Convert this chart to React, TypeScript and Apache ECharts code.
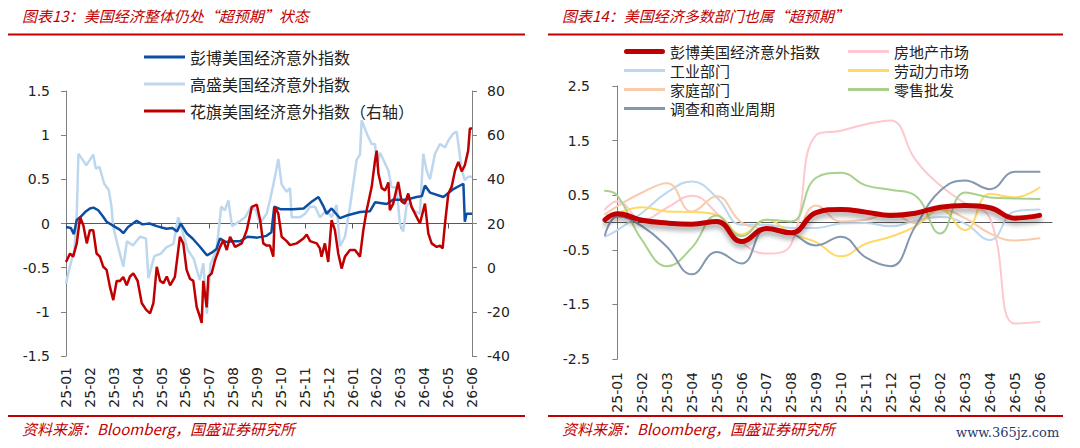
import React, { useEffect, useRef } from 'react';
import * as echarts from 'echarts';

// month labels shared by both panels
const MONTHS = [
  '25-01', '25-02', '25-03', '25-04', '25-05', '25-06', '25-07', '25-08', '25-09',
  '25-10', '25-11', '25-12', '26-01', '26-02', '26-03', '26-04', '26-05', '26-06',
];

// left panel: [month index, value]
const BBG_US: [number, number][] = [
  [0, -0.04], [0.2, -0.05], [0.33, -0.12], [0.45, 0.04], [0.59, 0.07], [0.8, 0.13], [1.0, 0.17],
  [1.15, 0.18], [1.35, 0.15], [1.55, 0.08], [1.7, 0.02], [2.0, -0.03], [2.25, -0.07], [2.4, -0.11],
  [2.6, -0.04], [2.96, 0.03], [3.2, -0.01], [3.5, 0.0], [3.8, -0.03], [4.2, -0.06], [4.45, -0.05],
  [4.65, -0.09], [4.8, 0.0], [5.05, -0.11], [5.3, -0.17], [5.6, -0.26], [5.9, -0.36], [6.1, -0.33],
  [6.3, -0.29], [6.45, -0.17], [6.7, -0.21], [7.0, -0.2], [7.3, -0.2], [7.6, -0.15], [8.0, -0.16],
  [8.4, -0.14], [8.6, -0.1], [8.72, 0.19], [9.0, 0.16], [9.5, 0.16], [9.95, 0.17], [10.3, 0.25],
  [10.57, 0.3], [10.77, 0.2], [10.91, 0.11], [11.12, 0.17], [11.47, 0.06], [11.75, 0.09],
  [12.31, 0.13], [12.73, 0.14], [12.94, 0.24], [13.43, 0.22], [13.7, 0.27], [14.26, 0.27],
  [14.68, 0.3], [14.9, 0.31], [15.03, 0.43], [15.24, 0.35], [15.8, 0.3], [16.22, 0.39],
  [16.5, 0.43], [16.64, 0.45], [16.7, 0.02], [16.77, 0.11], [17, 0.11],
];

const GS_US: [number, number][] = [
  [0, -0.68], [0.15, -0.5], [0.35, -0.3], [0.45, 0.1], [0.52, 0.79], [0.7, 0.72], [0.85, 0.66],
  [1.0, 0.72], [1.14, 0.78], [1.25, 0.62], [1.4, 0.64], [1.6, 0.45], [1.79, 0.38], [1.9, 0.2],
  [1.98, -0.04], [2.15, -0.23], [2.4, -0.49], [2.55, -0.2], [2.8, -0.25], [3.1, -0.15], [3.35, -0.17],
  [3.45, -0.62], [3.7, -0.37], [3.98, -0.34], [4.2, -0.27], [4.5, -0.23], [4.7, 0.07], [4.85, -0.06],
  [5.1, -0.3], [5.35, -0.4], [5.6, -0.64], [5.75, -0.45], [5.9, -1.02], [6.05, -0.46], [6.3, -0.3],
  [6.5, 0.19], [6.65, 0.15], [6.8, 0.26], [6.95, -0.03], [7.3, 0.03], [7.5, 0.07], [7.75, 0.19],
  [7.95, 0.15], [8.12, 0.0], [8.4, 0.11], [8.54, 0.26], [8.75, 0.53], [8.89, 0.73], [9.03, 0.44],
  [9.24, 0.36], [9.38, 0.4], [9.45, 0.07], [9.8, 0.07], [10.01, 0.11], [10.22, 0.19], [10.43, 0.19],
  [10.63, 0.07], [10.91, 0.15], [11.12, 0.07], [11.33, 0.21], [11.47, -0.26], [11.68, -0.15],
  [11.89, 0.19], [12.17, 0.72], [12.31, 0.78], [12.38, 1.17], [12.59, 1.02], [12.8, 0.9],
  [12.94, 0.9], [13.01, 0.64], [13.15, 0.8], [13.36, 0.68], [13.5, 0.6], [13.63, 0.41],
  [13.84, 0.41], [13.98, 0.0], [14.12, -0.09], [14.26, 0.2], [14.4, 0.24], [14.54, 0.15],
  [14.82, 0.11], [14.96, 0.79], [15.1, 0.6], [15.24, 0.5], [15.45, 0.79], [15.66, 0.9],
  [15.87, 0.86], [16.01, 0.94], [16.22, 1.02], [16.36, 1.04], [16.5, 0.75], [16.57, 0.6],
  [16.7, 0.49], [16.84, 0.53], [17, 0.53],
];

// right axis
const CITI_US: [number, number][] = [
  [0, 2.6], [0.17, 6.4], [0.3, 5], [0.45, 11], [0.59, 23], [0.73, 19], [0.87, 11], [1.0, 17],
  [1.14, 17], [1.28, 6.4], [1.42, 5], [1.56, 0.4], [1.7, -1], [1.84, -8.7], [1.98, -14.7],
  [2.12, -6], [2.26, -6], [2.4, -4.2], [2.54, -8], [2.68, -4], [2.82, -2.6], [3.0, -6], [3.17, -16],
  [3.35, -19], [3.52, -20.7], [3.66, -16], [3.8, 0.4], [3.94, -6], [4.08, -7], [4.22, -4],
  [4.36, -8], [4.56, -4.2], [4.77, 14], [4.91, 11], [5.05, -1], [5.19, -5], [5.33, -6],
  [5.47, -17.7], [5.6, -22], [5.68, -25], [5.75, -6], [5.89, -18], [5.96, -4], [6.1, -2.6],
  [6.24, 3.4], [6.45, 9.4], [6.59, 12.4], [6.73, 8], [6.87, 14], [7.08, 9.4], [7.36, 11],
  [7.57, 17], [7.78, 27.5], [7.99, 28.5], [8.13, 21.5], [8.26, 11], [8.4, 10], [8.54, 10],
  [8.68, 5], [8.75, 27.5], [8.89, 24.5], [9.03, 14], [9.24, 12], [9.38, 10.2], [9.66, 11],
  [9.94, 13.2], [10.08, 15], [10.22, 12], [10.5, 11], [10.63, 8.7], [10.7, 5], [10.84, 11],
  [10.98, 2.6], [11.12, 21.5], [11.26, 17], [11.4, 6.4], [11.54, -0.4], [11.68, 5], [11.89, 8],
  [12.1, 8], [12.31, 5], [12.45, 17], [12.59, 26], [12.8, 36.6], [12.94, 48.6], [13.01, 53],
  [13.08, 42.6], [13.22, 36], [13.36, 35], [13.5, 38.6], [13.56, 26], [13.7, 29], [13.91, 38.8],
  [14.05, 30], [14.19, 29], [14.33, 33.6], [14.47, 27.5], [14.68, 23], [14.82, 20], [15.03, 29],
  [15.17, 15.5], [15.31, 11], [15.52, 9.4], [15.66, 10], [15.77, 8.7], [15.87, 20], [16.01, 33.6],
  [16.15, 36.7], [16.29, 44], [16.43, 47.9], [16.57, 43.6], [16.7, 46.4], [16.84, 53],
  [16.91, 63], [17, 63],
];

// right panel: first value sits at the left edge, then one value per month
const SECTOR_X = [-0.5, 0, 1, 2, 3, 4, 5, 6, 7, 8, 9, 10, 11, 12, 13, 14, 15, 16, 17];
const BBG_TOTAL = [0.05, 0.16, 0.04, -0.01, -0.03, 0.02, -0.35, -0.11, -0.19, 0.18, 0.24, 0.19, 0.13, 0.17, 0.28, 0.31, 0.27, 0.08, 0.13];
const PROPERTY = [0.24, 0.39, 0.05, 0.27, 0.49, 0.17, -0.36, -0.57, -0.39, 1.6, 1.68, 1.8, 1.87, 1.15, 0.68, 0.35, 0.08, -1.85, -1.82];
const INDUSTRY = [-0.26, -0.14, 0.18, 0.55, 0.75, 0.46, -0.04, -0.04, -0.1, -0.1, -0.02, -0.01, -0.07, 0.03, 0.1, -0.02, -0.32, 0.2, 0.24];
const LABOR = [0.05, 0.17, 0.28, 0.2, 0.19, 0.14, -0.22, 0.05, -0.2, -0.36, -0.62, -0.39, -0.26, -0.07, 0.24, -0.14, 0.52, 0.46, 0.64];
const HOUSEHOLD = [0.15, 0.3, 0.55, 0.72, 0.2, 0.48, 0.0, -0.12, -0.2, 0.31, 0.02, 0.05, 0.17, -0.01, 0.24, 0.08, -0.2, -0.33, -0.29];
const RETAIL = [0.58, 0.49, -0.33, -0.8, -0.46, 0.13, -0.25, 0.05, 0.02, 0.82, 0.91, 0.68, 0.6, 0.49, -0.2, 0.55, 0.46, 0.44, 0.43];
const SURVEY = [-0.23, 0.11, -0.07, -0.45, -0.95, -0.54, -0.75, -0.12, -0.2, -0.42, -0.26, -0.64, -0.8, -0.07, 0.58, 0.77, 0.61, 0.93, 0.93];

const CJK = '"Noto Sans CJK SC", sans-serif';
const NUM = '"DejaVu Sans", sans-serif';
const RED = '#C00000';
const AXIS_GREY = '#808080';

// flat bars used as legend keys, so the key looks like a plain line
const THIN_KEY = 'path://M0 0H41V3H0Z';
const THICK_KEY = 'path://M2.5 0H38.5A2.5 2.5 0 0 1 38.5 5H2.5A2.5 2.5 0 0 1 2.5 0Z';

const pairs = (ys: number[]) => ys.map((y, i) => [SECTOR_X[i], y]);

function frame(title: string, x2: number, watermark: boolean) {
  const els: any[] = [
    { type: 'text', left: 22, top: 8, style: { text: title, fill: RED, fontSize: 15, fontStyle: 'italic', fontFamily: CJK } },
    { type: 'line', shape: { x1: 8, y1: 34.5, x2, y2: 34.5 }, style: { stroke: RED, lineWidth: 2 } },
    { type: 'line', shape: { x1: 8, y1: 416, x2, y2: 416 }, style: { stroke: RED, lineWidth: 2 } },
    { type: 'text', left: 22, top: 421, style: { text: '资料来源：Bloomberg，国盛证券研究所', fill: RED, fontSize: 15, fontStyle: 'italic', fontFamily: CJK } },
  ];
  if (watermark) {
    els.push({ type: 'text', left: 416, top: 426, style: { text: 'www.365jz.com', fill: '#1F3A6B', fontSize: 13, fontFamily: '"DejaVu Serif", serif' } });
  }
  return els;
}

const yLabel = { color: '#222', fontSize: 14, fontFamily: NUM };
const yLine = { show: true, lineStyle: { color: AXIS_GREY } };
const yTick = { show: true, length: 5, lineStyle: { color: AXIS_GREY } };
const xLabel = { rotate: 90, interval: 0, color: '#222', fontSize: 14, fontFamily: NUM };

function leftOption() {
  return {
    animation: false,
    backgroundColor: '#fff',
    graphic: frame('图表13：美国经济整体仍处“超预期”状态', 525, false),
    legend: {
      orient: 'vertical', left: 139, top: 44, itemWidth: 41, itemHeight: 14, itemGap: 11,
      textStyle: { color: '#222', fontSize: 16, fontFamily: CJK },
      data: [
        { name: '彭博美国经济意外指数', icon: THIN_KEY },
        { name: '高盛美国经济意外指数', icon: THIN_KEY },
        { name: '花旗美国经济意外指数（右轴）', icon: THIN_KEY },
      ],
    },
    grid: { left: 66, right: 68, top: 91, bottom: 92 },
    xAxis: [
      {
        type: 'category', data: MONTHS, boundaryGap: false, position: 'bottom',
        axisLine: { show: false, onZero: false }, axisTick: { show: false },
        axisLabel: { ...xLabel, margin: 11 },
      },
      {
        type: 'category', data: MONTHS, boundaryGap: false,
        axisLine: { onZero: true, onZeroAxisIndex: 0, lineStyle: { color: '#595959' } },
        axisTick: { inside: true, length: 5, lineStyle: { color: '#595959' } },
        axisLabel: { show: false },
      },
      { type: 'value', min: 0, max: 17, show: false },
    ],
    yAxis: [
      {
        type: 'value', min: -1.5, max: 1.5, interval: 0.5, position: 'left',
        axisLine: yLine, axisTick: yTick, splitLine: { show: false },
        axisLabel: { ...yLabel, margin: 16 },
      },
      {
        type: 'value', min: -40, max: 80, interval: 20, position: 'right',
        axisLine: yLine, axisTick: yTick, splitLine: { show: false },
        axisLabel: { ...yLabel, margin: 15 },
      },
    ],
    series: [
      {
        name: '高盛美国经济意外指数', type: 'line', xAxisIndex: 2, yAxisIndex: 0, data: GS_US,
        symbol: 'none', color: '#BDD7EE', lineStyle: { width: 2.5, color: '#BDD7EE' },
      },
      {
        name: '彭博美国经济意外指数', type: 'line', xAxisIndex: 2, yAxisIndex: 0, data: BBG_US,
        symbol: 'none', color: '#0B4EA2', lineStyle: { width: 2.5, color: '#0B4EA2' },
      },
      {
        name: '花旗美国经济意外指数（右轴）', type: 'line', xAxisIndex: 2, yAxisIndex: 1, data: CITI_US,
        symbol: 'none', color: RED, lineStyle: { width: 2.5, color: RED },
      },
    ],
  };
}

function sector(name: string, ys: number[], color: string, width: number, extra: any = {}) {
  return {
    name, type: 'line', xAxisIndex: 2, yAxisIndex: 0, data: pairs(ys), smooth: 0.45,
    symbol: 'none', color, lineStyle: { width, color, cap: 'round', ...extra },
  };
}

function rightOption() {
  const legendText = { color: '#222', fontSize: 15, fontFamily: CJK, lineHeight: 15 };
  return {
    animation: false,
    backgroundColor: '#fff',
    graphic: frame('图表14：美国经济多数部门也属“超预期”', 523, true),
    legend: [
      {
        orient: 'vertical', left: 79, top: 39, itemWidth: 41, itemHeight: 14, itemGap: 4,
        textStyle: legendText,
        data: [
          { name: '彭博美国经济意外指数', icon: THICK_KEY },
          { name: '工业部门', icon: THIN_KEY },
          { name: '家庭部门', icon: THIN_KEY },
          { name: '调查和商业周期', icon: THIN_KEY },
        ],
      },
      {
        orient: 'vertical', left: 303, top: 39, itemWidth: 41, itemHeight: 14, itemGap: 4,
        textStyle: legendText,
        data: [
          { name: '房地产市场', icon: THIN_KEY },
          { name: '劳动力市场', icon: THIN_KEY },
          { name: '零售批发', icon: THIN_KEY },
        ],
      },
    ],
    grid: { left: 65, right: 28, top: 86, bottom: 89 },
    xAxis: [
      {
        type: 'category', data: MONTHS, boundaryGap: true, position: 'bottom',
        axisLine: { show: false, onZero: false }, axisTick: { show: false },
        axisLabel: { ...xLabel, margin: 13 },
      },
      {
        type: 'category', data: MONTHS, boundaryGap: true,
        axisLine: { onZero: true, lineStyle: { color: '#595959' } },
        axisTick: { inside: true, length: 5, lineStyle: { color: '#595959' } },
        axisLabel: { show: false },
      },
      { type: 'value', min: -0.5, max: 17.5, show: false },
    ],
    yAxis: [
      {
        type: 'value', min: -2.5, max: 2.5, interval: 1,
        axisLine: yLine, axisTick: yTick, splitLine: { show: false },
        axisLabel: { ...yLabel, margin: 15 },
      },
    ],
    series: [
      sector('房地产市场', PROPERTY, '#FFC7CE', 2),
      sector('工业部门', INDUSTRY, '#BDD7EE', 2),
      sector('家庭部门', HOUSEHOLD, '#F8CBAD', 2),
      sector('劳动力市场', LABOR, '#FFD966', 2),
      sector('零售批发', RETAIL, '#A9D18E', 2),
      sector('调查和商业周期', SURVEY, '#8497B0', 2),
      sector('彭博美国经济意外指数', BBG_TOTAL, RED, 5, {
        shadowColor: 'rgba(0,0,0,0.35)', shadowBlur: 5, shadowOffsetY: 4,
      }),
    ],
  };
}

export default function App() {
  const leftRef = useRef<HTMLDivElement>(null);
  const rightRef = useRef<HTMLDivElement>(null);

  useEffect(() => {
    if (!leftRef.current || !rightRef.current) return;
    const left = echarts.init(leftRef.current, null, { renderer: 'svg' });
    left.setOption(leftOption() as any);
    const right = echarts.init(rightRef.current, null, { renderer: 'svg' });
    right.setOption(rightOption() as any);
    return () => {
      left.dispose();
      right.dispose();
    };
  }, []);

  return (
    <div style={{ position: 'absolute', left: 0, top: 0, width: 1080, height: 448, background: '#fff' }}>
      <div ref={leftRef} style={{ position: 'absolute', left: 0, top: 0, width: 540, height: 448 }} />
      <div ref={rightRef} style={{ position: 'absolute', left: 540, top: 0, width: 540, height: 448 }} />
    </div>
  );
}
